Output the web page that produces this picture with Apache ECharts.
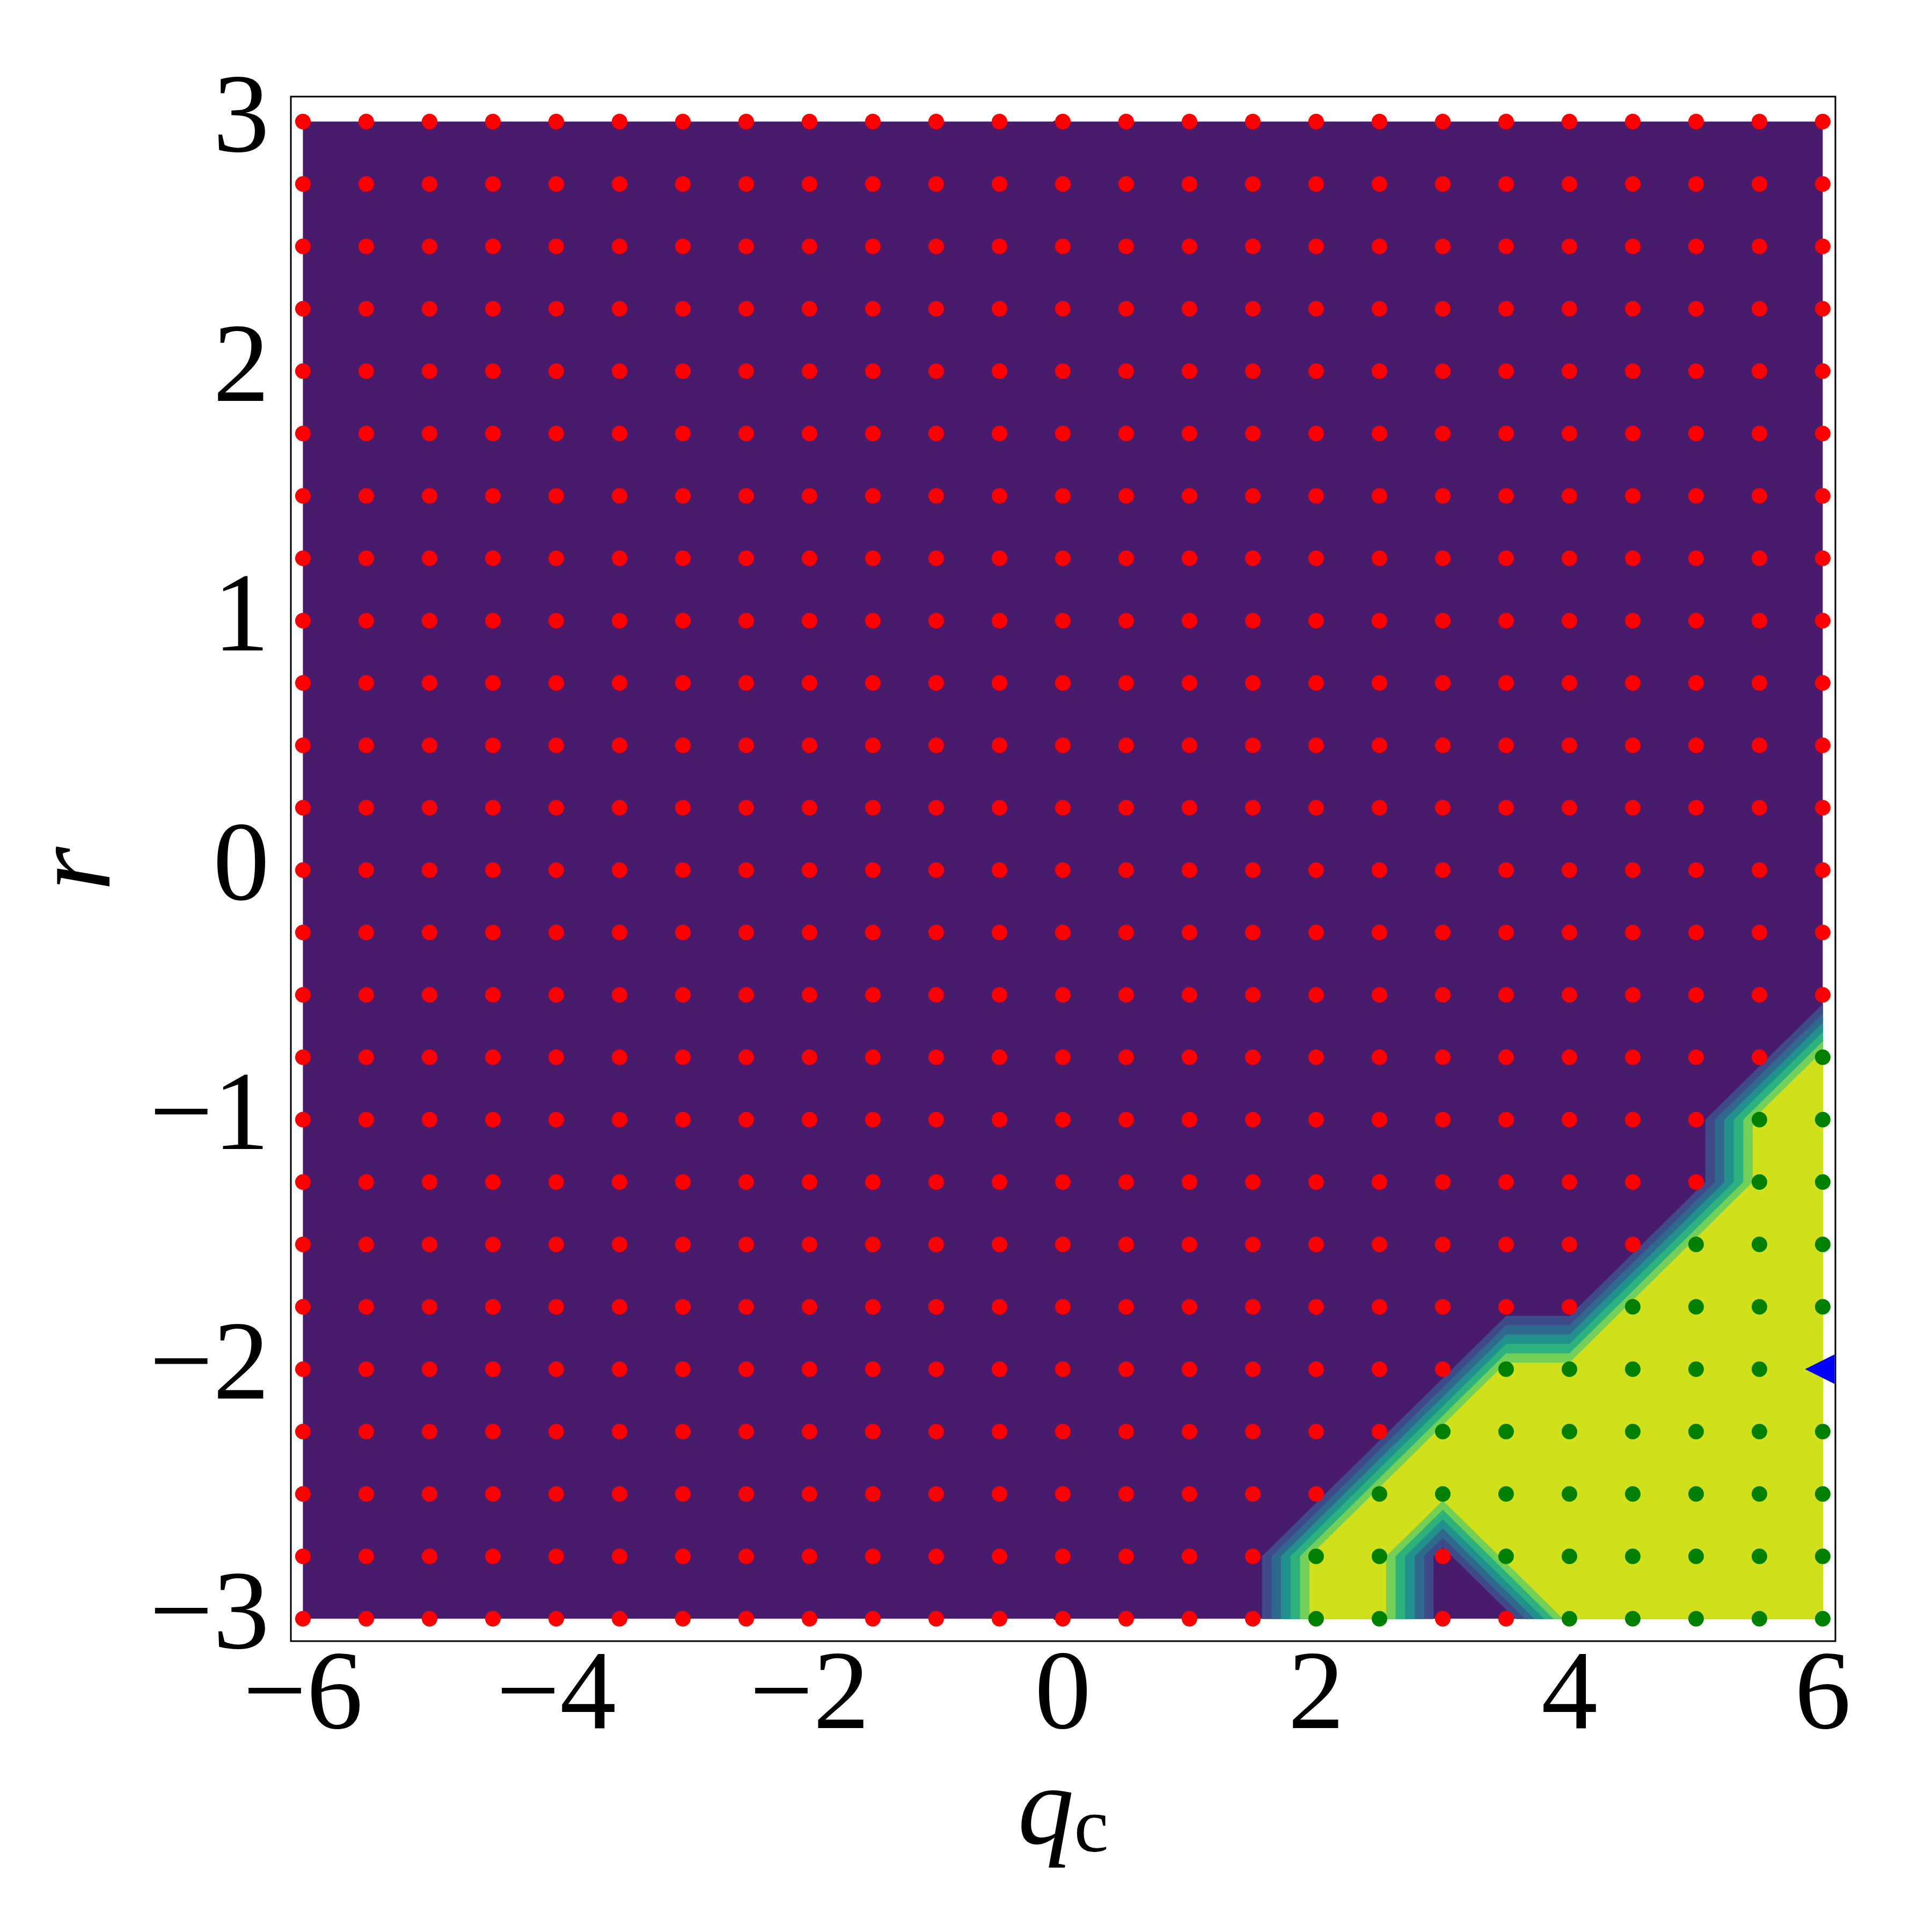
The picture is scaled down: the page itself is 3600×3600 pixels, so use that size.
<!DOCTYPE html>
<html>
<head>
<meta charset="utf-8">
<script src="https://cdn.jsdelivr.net/npm/echarts@6/dist/echarts.min.js"></script>
<style>
html,body{margin:0;padding:0;background:#ffffff;}
#chart{width:3600px;height:3600px;}
</style>
</head>
<body>
<div id="chart"></div>
<script>
// ---------------- data ----------------
const qcValues = [-6,-5.5,-5,-4.5,-4,-3.5,-3,-2.5,-2,-1.5,-1,-0.5,0,0.5,1,1.5,2,2.5,3,3.5,4,4.5,5,5.5,6];
const rValues = [-3,-2.75,-2.5,-2.25,-2,-1.75,-1.5,-1.25,-1,-0.75,-0.5,-0.25,0,0.25,0.5,0.75,1,1.25,1.5,1.75,2,2.25,2.5,2.75,3];
// phase[j][i] : value at (qcValues[i], rValues[j]); 1 = green region, 0 = red region
const phase = [
  [0,0,0,0,0,0,0,0,0,0,0,0,0,0,0,0,1,1,0,0,1,1,1,1,1], // r = -3
  [0,0,0,0,0,0,0,0,0,0,0,0,0,0,0,0,1,1,0,1,1,1,1,1,1], // r = -2.75
  [0,0,0,0,0,0,0,0,0,0,0,0,0,0,0,0,0,1,1,1,1,1,1,1,1], // r = -2.5
  [0,0,0,0,0,0,0,0,0,0,0,0,0,0,0,0,0,0,1,1,1,1,1,1,1], // r = -2.25
  [0,0,0,0,0,0,0,0,0,0,0,0,0,0,0,0,0,0,0,1,1,1,1,1,1], // r = -2
  [0,0,0,0,0,0,0,0,0,0,0,0,0,0,0,0,0,0,0,0,0,1,1,1,1], // r = -1.75
  [0,0,0,0,0,0,0,0,0,0,0,0,0,0,0,0,0,0,0,0,0,0,1,1,1], // r = -1.5
  [0,0,0,0,0,0,0,0,0,0,0,0,0,0,0,0,0,0,0,0,0,0,0,1,1], // r = -1.25
  [0,0,0,0,0,0,0,0,0,0,0,0,0,0,0,0,0,0,0,0,0,0,0,1,1], // r = -1
  [0,0,0,0,0,0,0,0,0,0,0,0,0,0,0,0,0,0,0,0,0,0,0,0,1], // r = -0.75
  [0,0,0,0,0,0,0,0,0,0,0,0,0,0,0,0,0,0,0,0,0,0,0,0,0], // r = -0.5
  [0,0,0,0,0,0,0,0,0,0,0,0,0,0,0,0,0,0,0,0,0,0,0,0,0], // r = -0.25
  [0,0,0,0,0,0,0,0,0,0,0,0,0,0,0,0,0,0,0,0,0,0,0,0,0], // r = 0
  [0,0,0,0,0,0,0,0,0,0,0,0,0,0,0,0,0,0,0,0,0,0,0,0,0], // r = 0.25
  [0,0,0,0,0,0,0,0,0,0,0,0,0,0,0,0,0,0,0,0,0,0,0,0,0], // r = 0.5
  [0,0,0,0,0,0,0,0,0,0,0,0,0,0,0,0,0,0,0,0,0,0,0,0,0], // r = 0.75
  [0,0,0,0,0,0,0,0,0,0,0,0,0,0,0,0,0,0,0,0,0,0,0,0,0], // r = 1
  [0,0,0,0,0,0,0,0,0,0,0,0,0,0,0,0,0,0,0,0,0,0,0,0,0], // r = 1.25
  [0,0,0,0,0,0,0,0,0,0,0,0,0,0,0,0,0,0,0,0,0,0,0,0,0], // r = 1.5
  [0,0,0,0,0,0,0,0,0,0,0,0,0,0,0,0,0,0,0,0,0,0,0,0,0], // r = 1.75
  [0,0,0,0,0,0,0,0,0,0,0,0,0,0,0,0,0,0,0,0,0,0,0,0,0], // r = 2
  [0,0,0,0,0,0,0,0,0,0,0,0,0,0,0,0,0,0,0,0,0,0,0,0,0], // r = 2.25
  [0,0,0,0,0,0,0,0,0,0,0,0,0,0,0,0,0,0,0,0,0,0,0,0,0], // r = 2.5
  [0,0,0,0,0,0,0,0,0,0,0,0,0,0,0,0,0,0,0,0,0,0,0,0,0], // r = 2.75
  [0,0,0,0,0,0,0,0,0,0,0,0,0,0,0,0,0,0,0,0,0,0,0,0,0]  // r = 3
];
const markerPoint = [6, -2];
const xTicks = [-6,-4,-2,0,2,4,6];
const yTicks = [-3,-2,-1,0,1,2,3];
const contourLevels = [0, 0.15, 0.3, 0.45, 0.6, 0.75, 0.9];
const bandColors = ['#481b6d','#3e4a89','#30698e','#21918c','#2db27d','#73d056','#d0e11c'];

// ---------------- derived series data ----------------
const redPoints = [], greenPoints = [], cells = [];
for (let j = 0; j < rValues.length; j++) {
  for (let i = 0; i < qcValues.length; i++) {
    (phase[j][i] ? greenPoints : redPoints).push([qcValues[i], rValues[j]]);
    if (i < qcValues.length - 1 && j < rValues.length - 1) cells.push([i, j]);
  }
}

function regionAbove(corners, L) {
  // polygon of the part of a grid cell where the linearly interpolated value >= L
  const out = [];
  for (let k = 0; k < 4; k++) {
    const a = corners[k], b = corners[(k + 1) % 4];
    const ina = a[2] >= L, inb = b[2] >= L;
    if (ina) out.push([a[0], a[1]]);
    if (ina !== inb) {
      const t = (L - a[2]) / (b[2] - a[2]);
      out.push([a[0] + t * (b[0] - a[0]), a[1] + t * (b[1] - a[1])]);
    }
  }
  return out;
}

function makeLevelRenderer(k) {
  const L = contourLevels[k], col = bandColors[k];
  return function (params, api) {
    const i = api.value(0), j = api.value(1);
    const corners = [
      [qcValues[i], rValues[j], phase[j][i]],
      [qcValues[i + 1], rValues[j], phase[j][i + 1]],
      [qcValues[i + 1], rValues[j + 1], phase[j + 1][i + 1]],
      [qcValues[i], rValues[j + 1], phase[j + 1][i]]
    ];
    const poly = regionAbove(corners, L);
    if (poly.length < 3) return null;
    const lw = k === 0 ? 0 : 1;
    return {type: 'polygon', shape: {points: poly.map(p => api.coord(p))},
      style: {fill: col, stroke: lw ? col : null, lineWidth: lw}};
  };
}

function renderTriangle(params, api) {
  const p = api.coord([api.value(0), api.value(1)]);
  const s = 33;
  const right = params.coordSys.x + params.coordSys.width - 1.5;
  const tipX = p[0] - s;
  const xc = Math.min(p[0] + s, right);
  const hh = s * (xc - tipX) / (2 * s);
  return {type: 'polygon', shape: {points: [[tipX, p[1]], [xc, p[1] - hh], [xc, p[1] + hh]]},
    style: {fill: '#0000ff'}};
}

const fmt = v => (v < 0 ? '\u2212' + Math.abs(v) : String(v));
const FONT = 'Liberation Serif';

const contourSeries = contourLevels.map((L, k) => ({
  type: 'custom', name: 'level' + k, data: cells, renderItem: makeLevelRenderer(k),
  z: 1 + k, silent: true, clip: false
}));
// base layer: one rectangle covering the data extent (avoids seams)
contourSeries[0] = {
  type: 'custom', name: 'base', data: [[qcValues[0], rValues[0], qcValues[qcValues.length - 1], rValues[rValues.length - 1]]],
  z: 1, silent: true, clip: false,
  renderItem: function (params, api) {
    const p0 = api.coord([api.value(0), api.value(1)]);
    const p1 = api.coord([api.value(2), api.value(3)]);
    return {type: 'rect', shape: {x: p0[0], y: p1[1], width: p1[0] - p0[0], height: p0[1] - p1[1]},
      style: {fill: bandColors[0]}};
  }
};

const chart = echarts.init(document.getElementById('chart'), null, {renderer: 'canvas'});
chart.setOption({
  animation: false,
  backgroundColor: '#ffffff',
  grid: {show: true, left: 542, top: 180, width: 2878, height: 2878,
    borderColor: '#000000', borderWidth: 3, backgroundColor: 'transparent', containLabel: false},
  xAxis: {
    type: 'value', min: -6.095, max: 6.1,
    axisLine: {show: false}, splitLine: {show: false},
    axisTick: {show: true, customValues: xTicks, length: 15, inside: false, lineStyle: {color: '#000', width: 3}},
    axisLabel: {customValues: xTicks, formatter: fmt, fontFamily: FONT, fontSize: 210, color: '#000', margin: 2},
    name: '{q|q}{c|c}', nameLocation: 'middle', nameGap: 201,
    nameTextStyle: {color: '#000', fontFamily: FONT,
      rich: {
        q: {fontFamily: FONT, fontStyle: 'italic', fontSize: 210, lineHeight: 210, color: '#000'},
        c: {fontFamily: FONT, fontSize: 145, lineHeight: 100, verticalAlign: 'bottom', color: '#000'}
      }}
  },
  yAxis: {
    type: 'value', min: -3.09, max: 3.1,
    axisLine: {show: false}, splitLine: {show: false},
    axisTick: {show: true, customValues: yTicks, length: 17, inside: false, lineStyle: {color: '#000', width: 3}},
    axisLabel: {customValues: yTicks, formatter: fmt, fontFamily: FONT, fontSize: 210, color: '#000', margin: 40},
    name: 'r', nameLocation: 'middle', nameGap: 288, nameRotate: 90,
    nameTextStyle: {color: '#000', fontFamily: FONT, fontStyle: 'italic', fontSize: 212}
  },
  series: contourSeries.concat([
    {type: 'scatter', name: 'unstable', data: redPoints, symbol: 'circle', symbolSize: 29,
      itemStyle: {color: '#ff0000', opacity: 1}, z: 10, silent: true},
    {type: 'scatter', name: 'stable', data: greenPoints, symbol: 'circle', symbolSize: 29,
      itemStyle: {color: '#008000', opacity: 1}, z: 11, silent: true},
    {type: 'custom', name: 'marker', data: [markerPoint], renderItem: renderTriangle, z: 12, silent: true, clip: false}
  ])
});
</script>
</body>
</html>
